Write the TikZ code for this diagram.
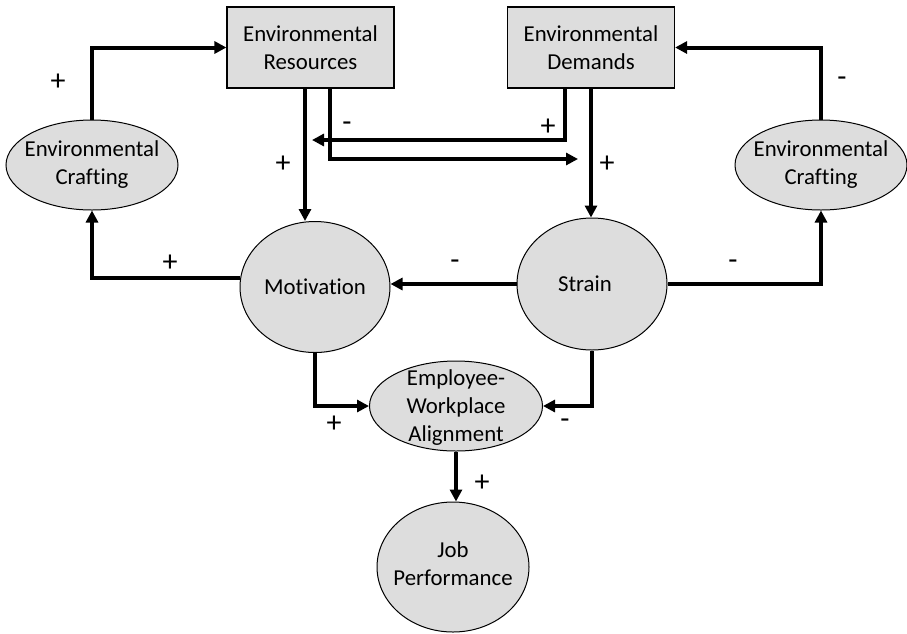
\documentclass[tikz,border=0pt]{standalone}
\usepackage{fontspec}
\setmainfont[Ligatures=NoCommon]{Carlito}
\usetikzlibrary{shapes.geometric,arrows.meta}
\definecolor{nodefill}{RGB}{221,221,221}
\begin{document}
\begin{tikzpicture}[x=1pt,y=-1pt,
  every node/.style={font=\fontsize{22.8}{28}\selectfont},
  ell/.style={ellipse,draw=black,line width=1pt,fill=nodefill,inner sep=0pt},
  box/.style={rectangle,draw=black,line width=1.2pt,fill=nodefill,inner sep=0pt,minimum width=167pt,minimum height=81pt,align=center},
  txt/.style={align=center,inner sep=0pt},
  conn/.style={line width=4pt,-{Triangle[length=12pt,width=12pt]}},
  sign/.style={inner sep=0pt,font=\fontsize{30}{30}\selectfont}
]
\useasboundingbox (0,0) rectangle (907,633);

% boxes
\node[box] (res) at (310.5,47.5) {Environmental\\Resources};
\node[box] (dem) at (591,47.5) {Environmental\\Demands};

% ellipses
\node[ell,minimum width=172pt,minimum height=90pt] (lc) at (92,165) {};
\node[txt] (lct) at (lc) {Environmental\\Crafting};
\node[ell,minimum width=172pt,minimum height=90pt] (rc) at (821,165) {};
\node[txt] (rct) at (rc) {Environmental\\Crafting};
\node[ell,minimum width=150pt,minimum height=131pt] (mot) at (315,287) {};
\node[txt] (mott) at (mot) {Motivation};
\node[ell,minimum width=150pt,minimum height=132pt] (str) at (592,284) {};
\node[txt] (strt) at (585,284) {Strain};
\node[ell,minimum width=173pt,minimum height=90pt] (al) at (456,406) {};
\node[txt] (alt) at (456,408) {Employee-\\Workplace\\Alignment};
\node[ell,minimum width=152pt,minimum height=130pt] (job) at (453,567) {};
\node[txt] (jobt) at (453,564) {Job\\Performance};

% free ends
\coordinate (e1) at (578,159);
\coordinate (e2) at (312,140);

% connectors
\draw[conn] (lc.north) |- (res.west);
\draw[conn] (rc.north) |- (dem.east);
\draw[conn] (mot.173) -| (lc.south);
\draw[conn] (str.east) -| (rc.south);
\draw[conn] ([xshift=-5.5pt]res.south) -- ([xshift=-5.5pt]res.south |- mot.north);
\draw[conn] ([xshift=19.5pt]res.south) |- (e1);
\draw[conn] ([xshift=-26pt]dem.south) |- (e2);
\draw[conn] (dem.south) -- (dem.south |- str.north);
\draw[conn] (str.west) -- (mot.east |- str.west);
\draw[conn] (mot.south) |- (al.west);
\draw[conn] (str.south) |- (al.east);
\draw[conn] (al.south) -- (al.south |- job.north);

% signs
\node[sign] (s1) at (58,82) {+};
\node[sign] (s2) at (170,263) {+};
\node[sign] (s3) at (283,164) {+};
\node[sign] (s4) at (347,127) {-};
\node[sign] (s5) at (548,127) {+};
\node[sign] (s6) at (607,164) {+};
\node[sign] (s7) at (842,82) {-};
\node[sign] (s8) at (733,265) {-};
\node[sign] (s9) at (455,265) {-};
\node[sign] (s10) at (334,424) {+};
\node[sign] (s11) at (565,424) {-};
\node[sign] (s12) at (482,483) {+};
\end{tikzpicture}
\end{document}
